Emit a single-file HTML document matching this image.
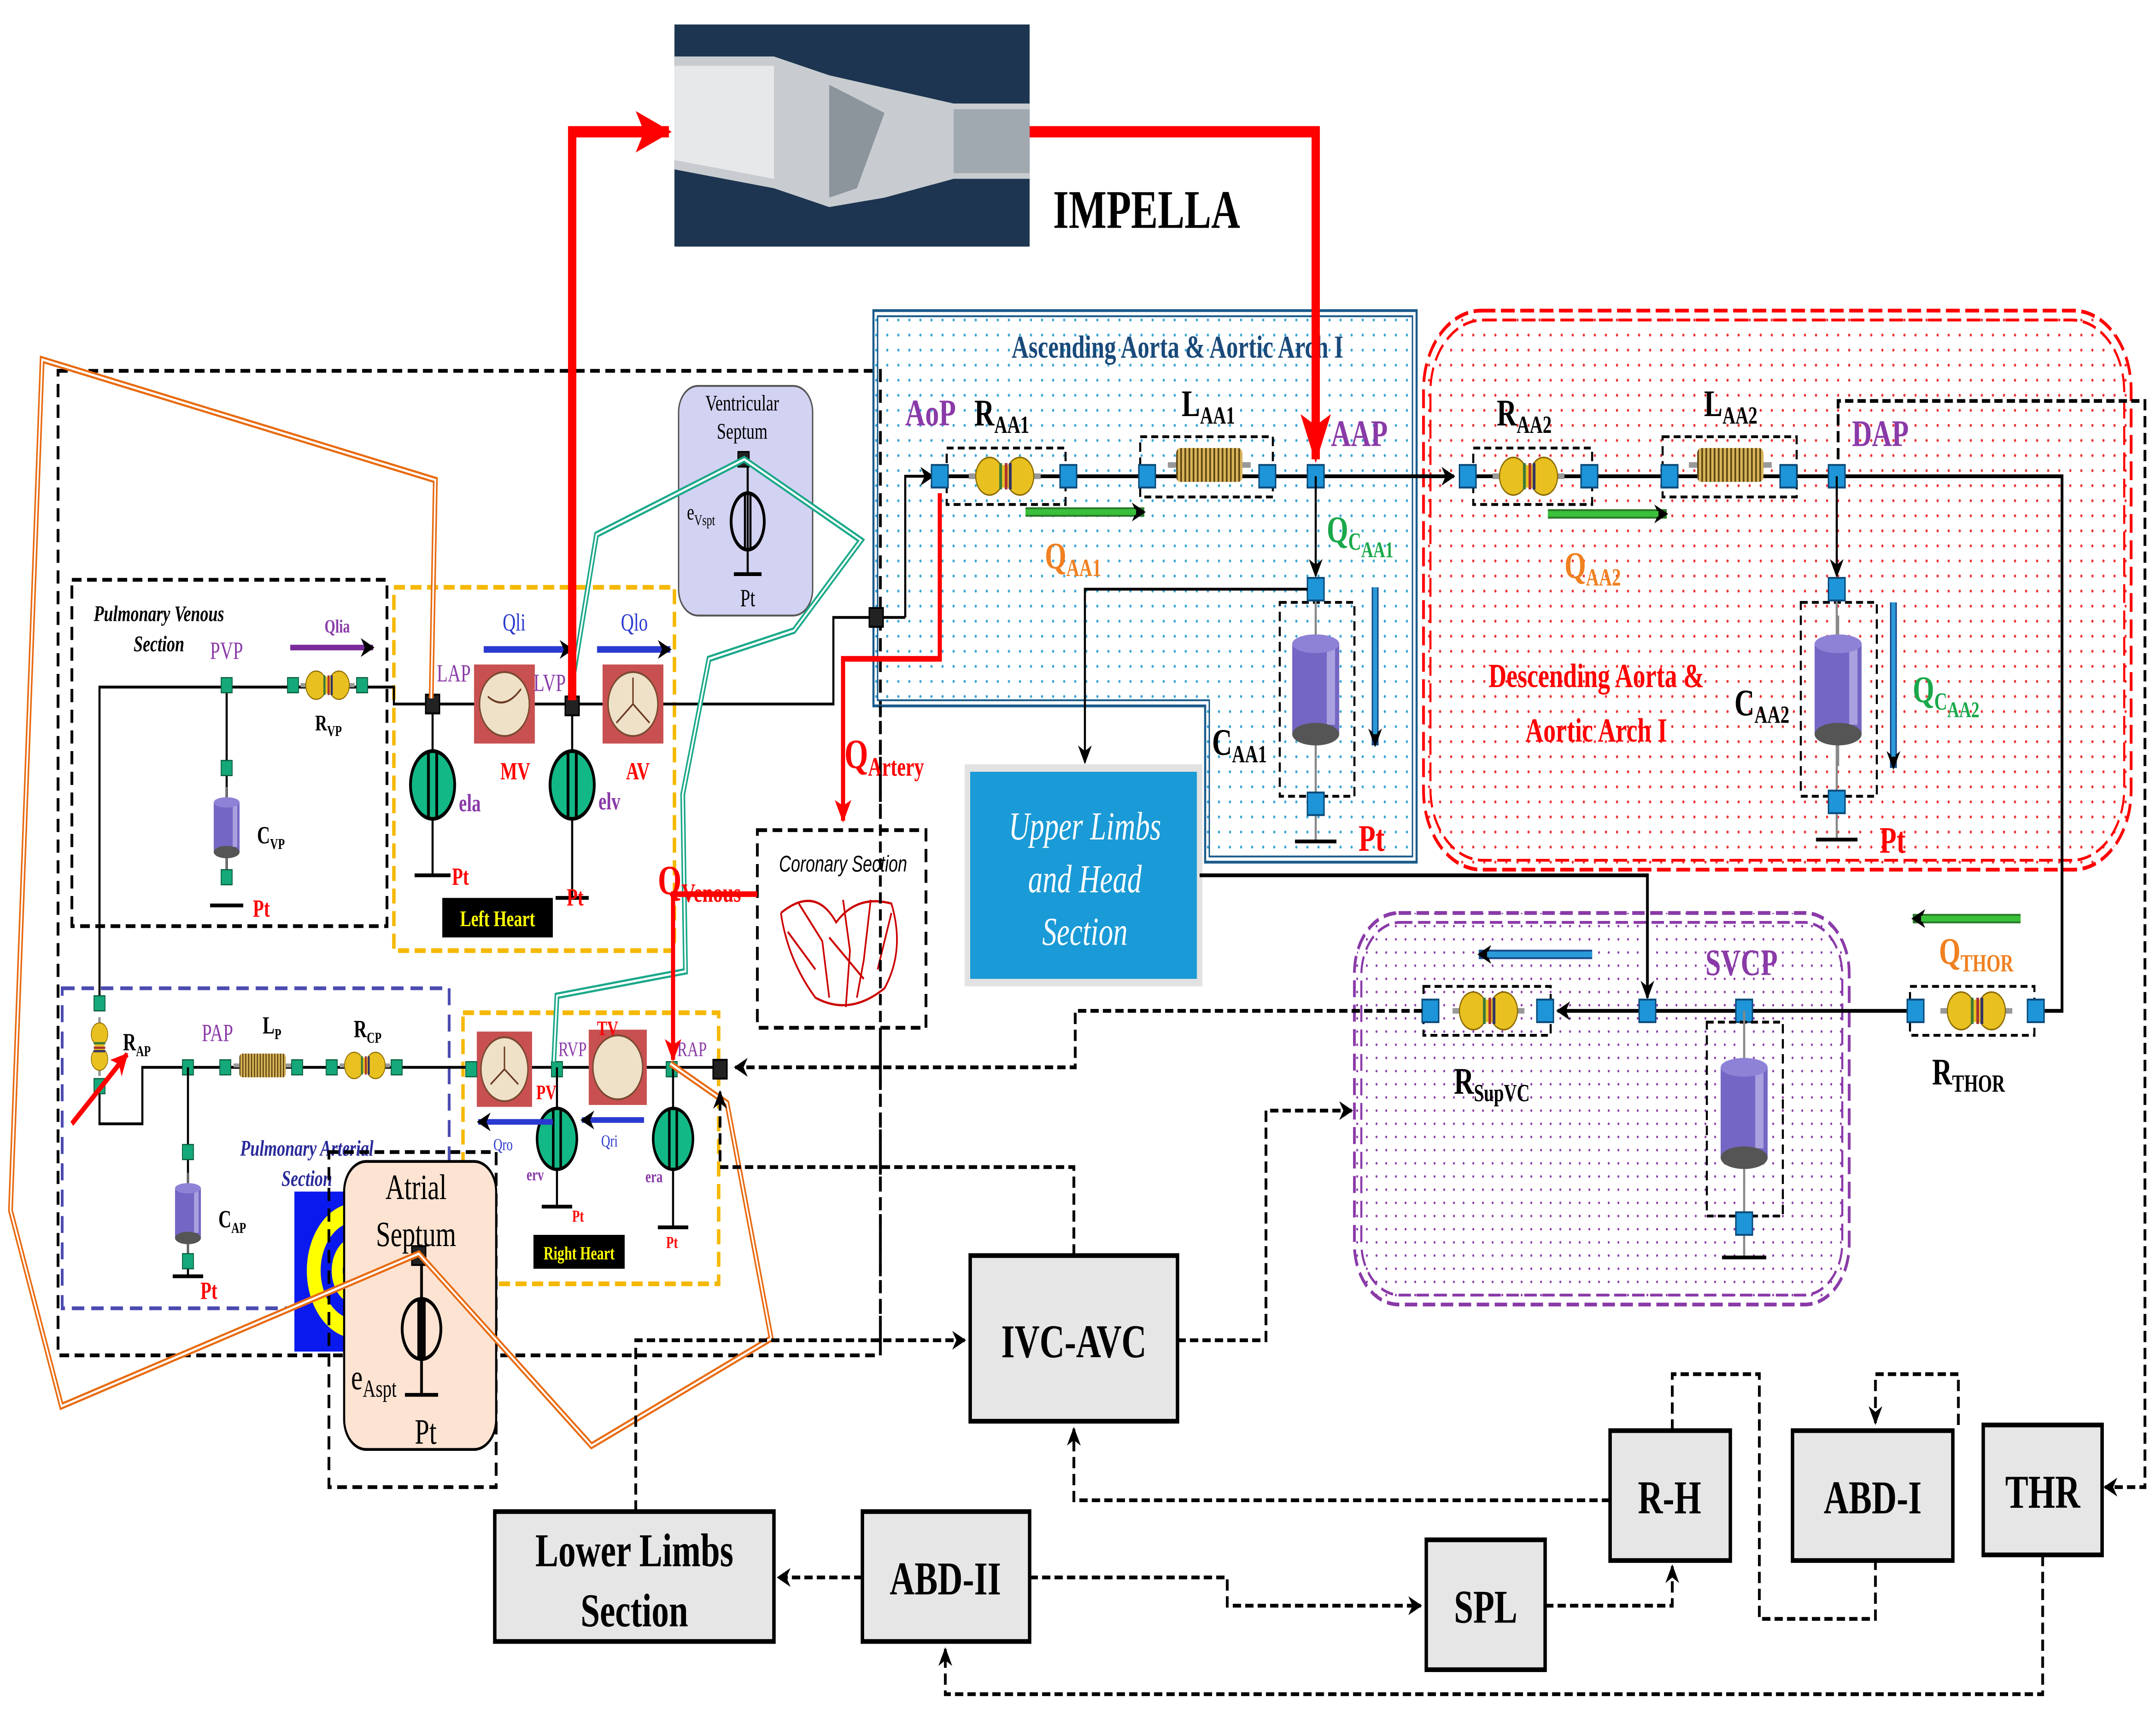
<!DOCTYPE html>
<html><head><meta charset="utf-8"><style>
html,body{margin:0;padding:0;background:#fff;width:100vw;height:100vh;overflow:hidden;}
svg{display:block;position:absolute;left:0;top:0;width:100vw;height:100vh;}
text{font-family:"Liberation Serif",serif;}
</style></head><body>
<svg viewBox="0 0 1560 910" preserveAspectRatio="none" xmlns="http://www.w3.org/2000/svg">
<defs>
<pattern id="pb" width="8" height="8" patternUnits="userSpaceOnUse"><circle cx="2" cy="2" r="0.8" fill="#3aa6d6"/></pattern>
<pattern id="pr" width="8" height="8" patternUnits="userSpaceOnUse"><circle cx="2" cy="2" r="0.8" fill="#e33"/></pattern>
<pattern id="pp" width="7" height="7" patternUnits="userSpaceOnUse"><circle cx="2" cy="2" r="0.7" fill="#8a3aa8"/></pattern>
<pattern id="coil" width="3" height="20" patternUnits="userSpaceOnUse"><rect width="3" height="20" fill="#d9b45a"/><rect width="1.2" height="20" fill="#5a4410"/></pattern>
<marker id="ah" markerWidth="10" markerHeight="10" refX="9" refY="5" orient="auto" markerUnits="userSpaceOnUse"><path d="M0,0 L10,5 L0,10 L3,5z" fill="#000"/></marker>
<marker id="ahr" markerWidth="26" markerHeight="22" refX="24" refY="11" orient="auto" markerUnits="userSpaceOnUse"><path d="M0,0 L26,11 L0,22 L6,11z" fill="#f00"/></marker>
<marker id="ahr2" markerWidth="12" markerHeight="12" refX="11" refY="6" orient="auto" markerUnits="userSpaceOnUse"><path d="M0,0 L12,6 L0,12 L3,6z" fill="#f00"/></marker>
<g id="res"><line x1="-26" y1="0" x2="26" y2="0" stroke="#999" stroke-width="3"/><ellipse cx="-11" cy="0" rx="10" ry="10" fill="#e8c020" stroke="#8a6a00" stroke-width="0.8"/><ellipse cx="11" cy="0" rx="10" ry="10" fill="#e8c020" stroke="#8a6a00" stroke-width="0.8"/><rect x="-8" y="-6" width="16" height="12" fill="#e8c020"/><rect x="-4" y="-7" width="2" height="14" fill="#3a7a3a"/><rect x="0" y="-7" width="2" height="14" fill="#a33"/><rect x="3" y="-7" width="2" height="14" fill="#336"/></g>
<g id="ind"><line x1="-30" y1="0" x2="30" y2="0" stroke="#999" stroke-width="3"/><rect x="-24" y="-9" width="48" height="18" rx="3" fill="url(#coil)"/></g>
<g id="cap"><line x1="0" y1="-40" x2="0" y2="40" stroke="#888" stroke-width="1.5"/><rect x="-17" y="-25" width="34" height="48" fill="#7466c4"/><rect x="8" y="-22" width="6" height="40" fill="#a9a0e0"/><ellipse cx="0" cy="-25" rx="17" ry="5" fill="#8d82d6"/><ellipse cx="0" cy="23" rx="17" ry="6" fill="#555"/></g>
<g id="src"><ellipse cx="0" cy="0" rx="16" ry="18" fill="#12b885" stroke="#000" stroke-width="2"/><line x1="-3" y1="-18" x2="-3" y2="18" stroke="#000" stroke-width="2"/><line x1="3" y1="-18" x2="3" y2="18" stroke="#000" stroke-width="2"/></g>
<g id="nd"><rect x="-6" y="-6" width="12" height="12" fill="#1d95d8" stroke="#0a4a7a" stroke-width="1"/></g>
<g id="gn"><rect x="-4" y="-4" width="8" height="8" fill="#14a87a" stroke="#0a5a3a" stroke-width="0.6"/></g>
<g id="bn"><rect x="-5" y="-5" width="10" height="10" fill="#222" stroke="#000"/></g>
</defs>

<!-- Impella -->
<rect x="488" y="13" width="257" height="118" fill="#1d3550"/>
<path d="M488,30 L560,30 L600,40 L690,55 L745,55 L745,95 L690,95 L640,105 L600,110 L560,100 L488,90 Z" fill="#c8ccd0"/>
<path d="M488,35 L560,35 L560,95 L488,85 Z" fill="#e6e8ea"/>
<path d="M600,45 L640,60 L620,100 L600,105 Z" fill="#8c949c"/>
<path d="M690,58 L745,58 L745,92 L690,92 Z" fill="#a0a8b0"/>
<text x="762" y="121" font-size="29" font-weight="bold">IMPELLA</text>

<rect x="42" y="197" width="595" height="523" fill="none" stroke="#000" stroke-width="2" stroke-dasharray="7,4"/>

<path d="M632,165 L1025,165 L1025,458 L872,458 L872,375 L632,375 Z" fill="url(#pb)" stroke="#1a5a8a" stroke-width="1.5"/>
<path d="M635,168 L1022,168 L1022,455 L875,455 L875,372 L635,372 Z" fill="none" stroke="#1a5a8a" stroke-width="1"/>
<text x="852" y="190" font-size="17" font-weight="bold" fill="#1a4a7a" text-anchor="middle">Ascending Aorta &amp; Aortic Arch I</text>

<rect x="1030" y="165" width="512" height="297" rx="42" fill="url(#pr)" stroke="#f00" stroke-width="2" stroke-dasharray="10,4"/>
<rect x="1035" y="170" width="502" height="287" rx="38" fill="none" stroke="#f00" stroke-width="1.5" stroke-dasharray="10,4"/>

<rect x="980" y="485" width="358" height="208" rx="32" fill="url(#pp)" stroke="#8a3aa8" stroke-width="2" stroke-dasharray="9,4"/>
<rect x="985" y="490" width="348" height="198" rx="28" fill="none" stroke="#8a3aa8" stroke-width="1.5" stroke-dasharray="9,4"/>

<rect x="52" y="308" width="228" height="184" fill="none" stroke="#000" stroke-width="2" stroke-dasharray="7,4"/>
<text x="115" y="330" font-size="12" font-weight="bold" font-style="italic" text-anchor="middle">Pulmonary Venous</text>
<text x="115" y="346" font-size="12" font-weight="bold" font-style="italic" text-anchor="middle">Section</text>
<rect x="285" y="312" width="203" height="193" fill="none" stroke="#f5b800" stroke-width="2.5" stroke-dasharray="8,4"/>
<rect x="45" y="525" width="280" height="170" fill="none" stroke="#4a4ab0" stroke-width="2" stroke-dasharray="9,5"/>
<rect x="335" y="538" width="185" height="144" fill="none" stroke="#f5b800" stroke-width="2.5" stroke-dasharray="8,4"/>

<polyline points="72,533 72,365 285,365 285,374 313,374" fill="none" stroke="#000" stroke-width="1.5"/>
<line x1="164" y1="365" x2="164" y2="466" stroke="#000" stroke-width="1.5"/>
<use href="#gn" x="164" y="364"/>
<use href="#res" transform="translate(237,364) scale(0.75)"/>
<use href="#gn" x="212" y="364"/><use href="#gn" x="262" y="364"/>
<text x="152" y="350" font-size="13" fill="#8a3aa8">PVP</text>
<text x="244" y="336" font-size="10" font-weight="bold" fill="#8a3aa8" text-anchor="middle">Qlia</text>
<line x1="210" y1="344" x2="270" y2="344" stroke="#7a2a9a" stroke-width="3" marker-end="url(#ah)"/>
<text x="228" y="388" font-size="12" font-weight="bold">R<tspan font-size="8" dy="3">VP</tspan></text>
<use href="#cap" transform="translate(164,440) scale(0.55)"/>
<use href="#gn" x="164" y="408"/><use href="#gn" x="164" y="466"/>
<line x1="152" y1="481" x2="176" y2="481" stroke="#000" stroke-width="2"/>
<text x="186" y="448" font-size="13" font-weight="bold">C<tspan font-size="8" dy="3">VP</tspan></text>
<text x="183" y="487" font-size="13" font-weight="bold" fill="#f00">Pt</text>

<polyline points="313,374 603,374 603,328 634,328" fill="none" stroke="#000" stroke-width="1.5"/>
<line x1="634" y1="328" x2="655" y2="328" stroke="#000" stroke-width="1.5"/>
<polyline points="655,328 655,253 675,253" fill="none" stroke="#000" stroke-width="1.5" marker-end="url(#ah)"/>
<rect x="343" y="353" width="44" height="42" fill="#c85050"/><ellipse cx="365" cy="374" rx="18" ry="17" fill="#efe0c8" stroke="#7a4a30"/>
<rect x="436" y="353" width="44" height="42" fill="#c85050"/><ellipse cx="458" cy="374" rx="18" ry="17" fill="#efe0c8" stroke="#7a4a30"/>
<path d="M458,360 L458,374 L446,384 M458,374 L470,384" stroke="#6a3a20" fill="none"/>
<path d="M353,370 Q365,378 377,366" stroke="#6a3a20" fill="none"/>
<line x1="313" y1="374" x2="313" y2="465" stroke="#000" stroke-width="1.5"/>
<line x1="414" y1="374" x2="414" y2="477" stroke="#000" stroke-width="1.5"/>
<use href="#src" x="313" y="417"/><use href="#src" x="414" y="417"/>
<line x1="300" y1="465" x2="326" y2="465" stroke="#000" stroke-width="2"/>
<line x1="402" y1="477" x2="426" y2="477" stroke="#000" stroke-width="2"/>
<use href="#bn" x="313" y="374"/>
<text x="316" y="362" font-size="13" fill="#8a3aa8">LAP</text>
<text x="386" y="367" font-size="13" fill="#8a3aa8">LVP</text>
<text x="362" y="414" font-size="13" font-weight="bold" fill="#f00">MV</text>
<text x="453" y="414" font-size="13" font-weight="bold" fill="#f00">AV</text>
<text x="332" y="431" font-size="13" font-weight="bold" fill="#8a3aa8">ela</text>
<text x="433" y="430" font-size="13" font-weight="bold" fill="#8a3aa8">elv</text>
<text x="327" y="470" font-size="13" font-weight="bold" fill="#f00">Pt</text>
<text x="410" y="481" font-size="13" font-weight="bold" fill="#f00">Pt</text>
<rect x="320" y="477" width="80" height="21" fill="#000"/>
<text x="360" y="492" font-size="12" font-weight="bold" fill="#ff0" text-anchor="middle">Left  Heart</text>
<text x="372" y="335" font-size="13" fill="#2a3ad0" text-anchor="middle">Qli</text>
<line x1="350" y1="345" x2="414" y2="345" stroke="#2a3ad0" stroke-width="3.5" marker-end="url(#ah)"/>
<text x="459" y="335" font-size="13" fill="#2a3ad0" text-anchor="middle">Qlo</text>
<line x1="432" y1="345" x2="485" y2="345" stroke="#2a3ad0" stroke-width="3.5" marker-end="url(#ah)"/>

<polyline points="72,577 72,597 103,597 103,567 336,567" fill="none" stroke="#000" stroke-width="1.5"/>
<use href="#res" transform="translate(72,556) rotate(90) scale(0.6)"/>
<use href="#gn" x="72" y="533"/><use href="#gn" x="72" y="577"/>
<line x1="52" y1="597" x2="92" y2="560" stroke="#f00" stroke-width="3" marker-end="url(#ahr2)"/>
<text x="89" y="558" font-size="13" font-weight="bold">R<tspan font-size="8" dy="3">AP</tspan></text>
<text x="146" y="553" font-size="13" fill="#8a3aa8">PAP</text>
<text x="190" y="549" font-size="13" font-weight="bold">L<tspan font-size="8" dy="3">P</tspan></text>
<text x="256" y="551" font-size="13" font-weight="bold">R<tspan font-size="8" dy="3">CP</tspan></text>
<use href="#ind" transform="translate(190,566) scale(0.7)"/>
<use href="#res" transform="translate(264,566) scale(0.7)"/>
<use href="#gn" x="136" y="567"/><use href="#gn" x="163" y="567"/><use href="#gn" x="215" y="567"/><use href="#gn" x="240" y="567"/><use href="#gn" x="287" y="567"/>
<line x1="136" y1="567" x2="136" y2="678" stroke="#000" stroke-width="1.5"/>
<use href="#cap" transform="translate(136,645) scale(0.55)"/>
<use href="#gn" x="136" y="612"/><use href="#gn" x="136" y="670"/>
<line x1="125" y1="678" x2="147" y2="678" stroke="#000" stroke-width="2"/>
<text x="158" y="652" font-size="13" font-weight="bold">C<tspan font-size="8" dy="3">AP</tspan></text>
<text x="145" y="690" font-size="13" font-weight="bold" fill="#f00">Pt</text>
<text x="222" y="614" font-size="12" font-weight="bold" font-style="italic" fill="#2a2a9a" text-anchor="middle">Pulmonary Arterial</text>
<text x="222" y="630" font-size="12" font-weight="bold" font-style="italic" fill="#2a2a9a" text-anchor="middle">Section</text>
<rect x="213" y="633" width="40" height="85" fill="#0a1aee"/>
<circle cx="258" cy="675" r="36" fill="#ff0"/><circle cx="258" cy="675" r="26" fill="#0a1aee"/><circle cx="258" cy="675" r="18" fill="#ff0"/><circle cx="258" cy="675" r="10" fill="#0a1aee"/>

<line x1="336" y1="567" x2="521" y2="567" stroke="#000" stroke-width="1.5"/>
<rect x="345" y="548" width="40" height="40" fill="#c85050"/><ellipse cx="365" cy="568" rx="17" ry="17" fill="#efe0c8" stroke="#7a4a30"/>
<rect x="426" y="547" width="42" height="40" fill="#c85050"/><ellipse cx="447" cy="567" rx="18" ry="17" fill="#efe0c8" stroke="#7a4a30"/>
<path d="M365,556 L365,568 L355,576 M365,568 L375,576" stroke="#6a3a20" fill="none"/>
<use href="#gn" x="341" y="568"/><use href="#gn" x="403" y="568"/><use href="#gn" x="486" y="568"/>
<line x1="403" y1="567" x2="403" y2="641" stroke="#000" stroke-width="1.5"/>
<line x1="487" y1="567" x2="487" y2="652" stroke="#000" stroke-width="1.5"/>
<use href="#src" transform="translate(403,605) scale(0.9)"/><use href="#src" transform="translate(487,605) scale(0.9)"/>
<line x1="392" y1="641" x2="414" y2="641" stroke="#000" stroke-width="2"/>
<line x1="476" y1="652" x2="498" y2="652" stroke="#000" stroke-width="2"/>
<text x="388" y="584" font-size="11" font-weight="bold" fill="#f00">PV</text>
<text x="432" y="550" font-size="11" font-weight="bold" fill="#f00">TV</text>
<text x="404" y="561" font-size="11" fill="#8a3aa8">RVP</text>
<text x="490" y="561" font-size="11" fill="#8a3aa8">RAP</text>
<line x1="400" y1="596" x2="346" y2="596" stroke="#2a3ad0" stroke-width="3" marker-end="url(#ah)"/>
<line x1="466" y1="595" x2="421" y2="595" stroke="#2a3ad0" stroke-width="3" marker-end="url(#ah)"/>
<text x="364" y="611" font-size="9" fill="#2a3ad0" text-anchor="middle">Qro</text>
<text x="441" y="609" font-size="9" fill="#2a3ad0" text-anchor="middle">Qri</text>
<text x="381" y="627" font-size="9" font-weight="bold" fill="#8a3aa8">erv</text>
<text x="467" y="628" font-size="9" font-weight="bold" fill="#8a3aa8">era</text>
<text x="414" y="649" font-size="9" font-weight="bold" fill="#f00">Pt</text>
<text x="482" y="663" font-size="9" font-weight="bold" fill="#f00">Pt</text>
<rect x="386" y="656" width="66" height="18" fill="#000"/>
<text x="419" y="669" font-size="10" font-weight="bold" fill="#ff0" text-anchor="middle">Right Heart</text>
<use href="#bn" x="521" y="568"/>

<rect x="491" y="205" width="97" height="122" rx="14" fill="#d2d2f2" stroke="#555" stroke-width="1"/>
<text x="537" y="218" font-size="12" text-anchor="middle">Ventricular</text>
<text x="537" y="233" font-size="12" text-anchor="middle">Septum</text>
<line x1="541" y1="244" x2="541" y2="305" stroke="#000" stroke-width="1.5"/>
<ellipse cx="541" cy="277" rx="12" ry="15" fill="none" stroke="#000" stroke-width="2"/>
<line x1="539" y1="262" x2="539" y2="292" stroke="#000" stroke-width="1.5"/><line x1="543" y1="262" x2="543" y2="292" stroke="#000" stroke-width="1.5"/>
<line x1="531" y1="305" x2="551" y2="305" stroke="#000" stroke-width="2"/>
<text x="497" y="276" font-size="12">e<tspan font-size="8" dy="3">Vspt</tspan></text>
<text x="541" y="322" font-size="13" text-anchor="middle">Pt</text>
<use href="#bn" transform="translate(538,244) scale(0.8)"/>

<rect x="238" y="612" width="121" height="178" fill="none" stroke="#000" stroke-width="2" stroke-dasharray="7,4"/>
<rect x="249" y="617" width="110" height="153" rx="16" fill="#fde3d2" stroke="#000" stroke-width="1.5"/>
<text x="301" y="637" font-size="19" text-anchor="middle">Atrial</text>
<text x="301" y="662" font-size="19" text-anchor="middle">Septum</text>
<line x1="305" y1="672" x2="305" y2="741" stroke="#000" stroke-width="2"/>
<ellipse cx="305" cy="706" rx="14" ry="16" fill="none" stroke="#000" stroke-width="2"/>
<line x1="303" y1="690" x2="303" y2="722" stroke="#000" stroke-width="2"/><line x1="307" y1="690" x2="307" y2="722" stroke="#000" stroke-width="2"/>
<line x1="293" y1="741" x2="317" y2="741" stroke="#000" stroke-width="2"/>
<text x="254" y="738" font-size="19">e<tspan font-size="13" dy="4">Aspt</tspan></text>
<text x="308" y="767" font-size="19" text-anchor="middle">Pt</text>
<use href="#bn" x="303" y="667"/>

<polyline points="312,371 315,255 30.5,191 7.6,643 44.5,747 303,666 428,768 558,711 526,586 485,565" fill="none" stroke="#e86a10" stroke-width="3.5"/>
<polyline points="312,371 315,255 30.5,191 7.6,643 44.5,747 303,666 428,768 558,711 526,586 485,565" fill="none" stroke="#fff" stroke-width="1.2"/>
<polyline points="412,372 431.6,284 538.5,244 623,287 574.5,335 513,350 494,422 496,516 403,529 400.7,564" fill="none" stroke="#1aa88a" stroke-width="3.5"/>
<polyline points="412,372 431.6,284 538.5,244 623,287 574.5,335 513,350 494,422 496,516 403,529 400.7,564" fill="none" stroke="#fff" stroke-width="1.2"/>
<use href="#bn" x="414" y="375"/>
<use href="#bn" x="634" y="328"/>

<polyline points="414,372 414,70 484,70" fill="none" stroke="#f00" stroke-width="6" marker-end="url(#ahr)"/>
<polyline points="745,70 952,70 952,244" fill="none" stroke="#f00" stroke-width="6" marker-end="url(#ahr)"/>

<rect x="548" y="441" width="122" height="105" fill="#fff" stroke="#000" stroke-width="2" stroke-dasharray="7,4"/>
<text x="610" y="463" font-size="12" font-style="italic" text-anchor="middle" style="font-family:'Liberation Sans',sans-serif">Coronary  Section</text>
<g stroke="#c00" fill="none" stroke-width="1.2">
<path d="M565,485 Q590,470 605,490 Q620,475 645,480 Q655,505 640,525 Q615,540 590,530 Q570,510 565,485"/>
<path d="M578,480 L595,500 L600,530 M610,478 L615,505 L612,535 M630,478 L625,510 L620,530 M645,485 L635,515 M570,495 L590,515 M600,498 L625,520"/>
</g>
<polyline points="680,262 680,350 610,350 610,436" fill="none" stroke="#f00" stroke-width="3" marker-end="url(#ahr2)"/>
<text x="611" y="408" font-size="22" font-weight="bold" fill="#f00">Q<tspan font-size="14" dy="4">Artery</tspan></text>
<polyline points="548,475 487,475 487,563" fill="none" stroke="#f00" stroke-width="3" marker-end="url(#ahr2)"/>
<text x="476" y="475" font-size="22" font-weight="bold" fill="#f00">Q<tspan font-size="14" dy="4">Venous</tspan></text>

<line x1="680" y1="253" x2="1052" y2="253" stroke="#000" stroke-width="2" marker-end="url(#ah)"/>
<rect x="685" y="238" width="86" height="30" fill="none" stroke="#000" stroke-width="1.5" stroke-dasharray="5,3"/>
<rect x="825" y="232" width="96" height="32" fill="none" stroke="#000" stroke-width="1.5" stroke-dasharray="5,3"/>
<use href="#res" x="727" y="253"/><use href="#ind" x="875" y="247"/>
<use href="#nd" x="680" y="253"/><use href="#nd" x="773" y="253"/><use href="#nd" x="830" y="253"/><use href="#nd" x="917" y="253"/><use href="#nd" x="952" y="253"/>
<text x="655" y="226" font-size="20" font-weight="bold" fill="#8a3aa8">AoP</text>
<text x="705" y="226" font-size="20" font-weight="bold">R<tspan font-size="13" dy="4">AA1</tspan></text>
<text x="855" y="221" font-size="20" font-weight="bold">L<tspan font-size="13" dy="4">AA1</tspan></text>
<text x="963" y="237" font-size="20" font-weight="bold" fill="#8a3aa8">AAP</text>
<line x1="742" y1="272" x2="828" y2="272" stroke="#2a7a2a" stroke-width="5" marker-end="url(#ah)"/>
<line x1="742" y1="272" x2="822" y2="272" stroke="#3ac03a" stroke-width="3"/>
<text x="756" y="302" font-size="20" font-weight="bold" fill="#f08020">Q<tspan font-size="13" dy="4">AA1</tspan></text>
<text x="960" y="288" font-size="20" font-weight="bold" fill="#1aa84a">Q<tspan font-size="13" dy="4">C</tspan><tspan font-size="12" dy="4">AA1</tspan></text>
<line x1="952" y1="253" x2="952" y2="306" stroke="#000" stroke-width="1.5" marker-end="url(#ah)"/>
<rect x="926" y="320" width="54" height="103" fill="none" stroke="#000" stroke-width="1.5" stroke-dasharray="5,3"/>
<line x1="952" y1="313" x2="952" y2="447" stroke="#888" stroke-width="1.5"/>
<use href="#cap" x="952" y="367"/>
<use href="#nd" x="952" y="313"/><use href="#nd" x="952" y="427"/>
<line x1="937" y1="447" x2="967" y2="447" stroke="#000" stroke-width="2"/>
<text x="877" y="401" font-size="20" font-weight="bold">C<tspan font-size="13" dy="4">AA1</tspan></text>
<text x="983" y="452" font-size="20" font-weight="bold" fill="#f00">Pt</text>
<line x1="995" y1="312" x2="995" y2="396" stroke="#1a4a8a" stroke-width="5" marker-end="url(#ah)"/>
<line x1="995" y1="312" x2="995" y2="390" stroke="#2a9ad8" stroke-width="3"/>
<polyline points="946,313 785,313 785,405" fill="none" stroke="#000" stroke-width="1.5" marker-end="url(#ah)"/>

<rect x="698" y="406" width="172" height="118" fill="#e2e2e2"/>
<rect x="702" y="410" width="164" height="110" fill="#1a9ad6"/>
<text x="785" y="446" font-size="21" font-style="italic" fill="#fff" text-anchor="middle">Upper Limbs</text>
<text x="785" y="474" font-size="21" font-style="italic" fill="#fff" text-anchor="middle">and Head</text>
<text x="785" y="502" font-size="21" font-style="italic" fill="#fff" text-anchor="middle">Section</text>
<polyline points="868,465 1192,465 1192,530" fill="none" stroke="#000" stroke-width="2" marker-end="url(#ah)"/>

<polyline points="1062,253 1492,253 1492,537 1473,537" fill="none" stroke="#000" stroke-width="2"/>
<polyline points="1330,253 1330,213 1552,213 1552,790 1523,790" fill="none" stroke="#000" stroke-width="2" stroke-dasharray="6,3" marker-end="url(#ah)"/>
<rect x="1066" y="238" width="86" height="30" fill="none" stroke="#000" stroke-width="1.5" stroke-dasharray="5,3"/>
<rect x="1203" y="232" width="97" height="32" fill="none" stroke="#000" stroke-width="1.5" stroke-dasharray="5,3"/>
<use href="#res" x="1106" y="253"/><use href="#ind" x="1252" y="247"/>
<use href="#nd" x="1062" y="253"/><use href="#nd" x="1150" y="253"/><use href="#nd" x="1208" y="253"/><use href="#nd" x="1294" y="253"/><use href="#nd" x="1329" y="253"/>
<text x="1083" y="226" font-size="20" font-weight="bold">R<tspan font-size="13" dy="4">AA2</tspan></text>
<text x="1233" y="221" font-size="20" font-weight="bold">L<tspan font-size="13" dy="4">AA2</tspan></text>
<text x="1340" y="237" font-size="20" font-weight="bold" fill="#8a3aa8">DAP</text>
<line x1="1120" y1="273" x2="1206" y2="273" stroke="#2a7a2a" stroke-width="5" marker-end="url(#ah)"/>
<line x1="1120" y1="273" x2="1200" y2="273" stroke="#3ac03a" stroke-width="3"/>
<text x="1132" y="307" font-size="20" font-weight="bold" fill="#f08020">Q<tspan font-size="13" dy="4">AA2</tspan></text>
<line x1="1329" y1="253" x2="1329" y2="306" stroke="#000" stroke-width="1.5" marker-end="url(#ah)"/>
<rect x="1303" y="320" width="55" height="103" fill="none" stroke="#000" stroke-width="1.5" stroke-dasharray="5,3"/>
<line x1="1329" y1="313" x2="1329" y2="446" stroke="#888" stroke-width="1.5"/>
<use href="#cap" x="1330" y="367"/>
<use href="#nd" x="1329" y="313"/><use href="#nd" x="1329" y="426"/>
<line x1="1314" y1="446" x2="1344" y2="446" stroke="#000" stroke-width="2"/>
<text x="1255" y="380" font-size="20" font-weight="bold">C<tspan font-size="13" dy="4">AA2</tspan></text>
<text x="1360" y="453" font-size="20" font-weight="bold" fill="#f00">Pt</text>
<line x1="1370" y1="320" x2="1370" y2="408" stroke="#1a4a8a" stroke-width="5" marker-end="url(#ah)"/>
<line x1="1370" y1="320" x2="1370" y2="402" stroke="#2a9ad8" stroke-width="3"/>
<text x="1384" y="373" font-size="20" font-weight="bold" fill="#1aa84a">Q<tspan font-size="13" dy="4">C</tspan><tspan font-size="12" dy="4">AA2</tspan></text>
<text x="1155" y="365" font-size="18" font-weight="bold" fill="#f00" text-anchor="middle">Descending Aorta &amp;</text>
<text x="1155" y="394" font-size="18" font-weight="bold" fill="#f00" text-anchor="middle">Aortic Arch I</text>

<line x1="1386" y1="537" x2="1127" y2="537" stroke="#000" stroke-width="2" marker-end="url(#ah)"/>
<rect x="1382" y="524" width="90" height="26" fill="none" stroke="#000" stroke-width="1.5" stroke-dasharray="5,3"/>
<use href="#res" x="1430" y="537"/>
<use href="#nd" x="1386" y="537"/><use href="#nd" x="1473" y="537"/>
<line x1="1462" y1="488" x2="1384" y2="488" stroke="#2a7a2a" stroke-width="5" marker-end="url(#ah)"/>
<line x1="1462" y1="488" x2="1390" y2="488" stroke="#3ac03a" stroke-width="3"/>
<text x="1403" y="512" font-size="20" font-weight="bold" fill="#f08020">Q<tspan font-size="13" dy="4">THOR</tspan></text>
<text x="1398" y="576" font-size="20" font-weight="bold">R<tspan font-size="13" dy="4">THOR</tspan></text>
<text x="1234" y="518" font-size="20" font-weight="bold" fill="#8a3aa8">SVCP</text>
<use href="#nd" x="1192" y="537"/><use href="#nd" x="1262" y="537"/>
<rect x="1235" y="543" width="55" height="103" fill="none" stroke="#000" stroke-width="1.5" stroke-dasharray="5,3"/>
<line x1="1262" y1="537" x2="1262" y2="668" stroke="#888" stroke-width="1.5"/>
<use href="#cap" x="1262" y="592"/>
<use href="#nd" x="1262" y="650"/>
<line x1="1246" y1="668" x2="1278" y2="668" stroke="#000" stroke-width="2"/>
<rect x="1030" y="524" width="92" height="26" fill="none" stroke="#000" stroke-width="1.5" stroke-dasharray="5,3"/>
<use href="#res" x="1077" y="537"/>
<use href="#nd" x="1035" y="537"/><use href="#nd" x="1118" y="537"/>
<text x="1052" y="581" font-size="20" font-weight="bold">R<tspan font-size="13" dy="4">SupVC</tspan></text>
<line x1="1152" y1="507" x2="1070" y2="507" stroke="#1a4a8a" stroke-width="5" marker-end="url(#ah)"/>
<line x1="1152" y1="507" x2="1076" y2="507" stroke="#2a9ad8" stroke-width="3"/>

<g fill="none" stroke="#000" stroke-width="2" stroke-dasharray="6,3">
<polyline points="1029,537 778,537 778,567 532,567" marker-end="url(#ah)"/>
<polyline points="777,667 777,620 521,620 521,580" marker-end="url(#ah)"/>
<line x1="637" y1="375" x2="637" y2="720"/>
<polyline points="460,803 460,712 698,712" marker-end="url(#ah)"/>
<polyline points="852,712 916,712 916,590 978,590" marker-end="url(#ah)"/>
<polyline points="1165,797 777,797 777,759" marker-end="url(#ah)"/>
<line x1="624" y1="838" x2="563" y2="838" marker-end="url(#ah)"/>
<polyline points="745,838 888,838 888,853 1028,853" marker-end="url(#ah)"/>
<polyline points="1118,853 1210,853 1210,832" marker-end="url(#ah)"/>
<polyline points="1210,760 1210,730 1273,730 1273,860 1357,860 1357,829"/>
<polyline points="1417,757 1417,730 1357,730 1357,756" marker-end="url(#ah)"/>
<polyline points="1478,826 1478,900 684,900 684,876" marker-end="url(#ah)"/>
</g>

<g stroke="#000" stroke-width="2.5" fill="#e6e6e6">
<rect x="702" y="667" width="150" height="88"/>
<rect x="358" y="803" width="202" height="69"/>
<rect x="624" y="803" width="121" height="69"/>
<rect x="1032" y="818" width="86" height="69"/>
<rect x="1165" y="760" width="87" height="69"/>
<rect x="1297" y="760" width="116" height="69"/>
<rect x="1435" y="757" width="86" height="69"/>
</g>
<g font-size="25" font-weight="bold" text-anchor="middle">
<text x="777" y="721">IVC-AVC</text>
<text x="459" y="832">Lower Limbs</text>
<text x="459" y="864">Section</text>
<text x="684" y="847">ABD-II</text>
<text x="1075" y="862">SPL</text>
<text x="1208" y="804">R-H</text>
<text x="1355" y="804">ABD-I</text>
<text x="1478" y="801">THR</text>
</g>
</svg>
</body></html>
